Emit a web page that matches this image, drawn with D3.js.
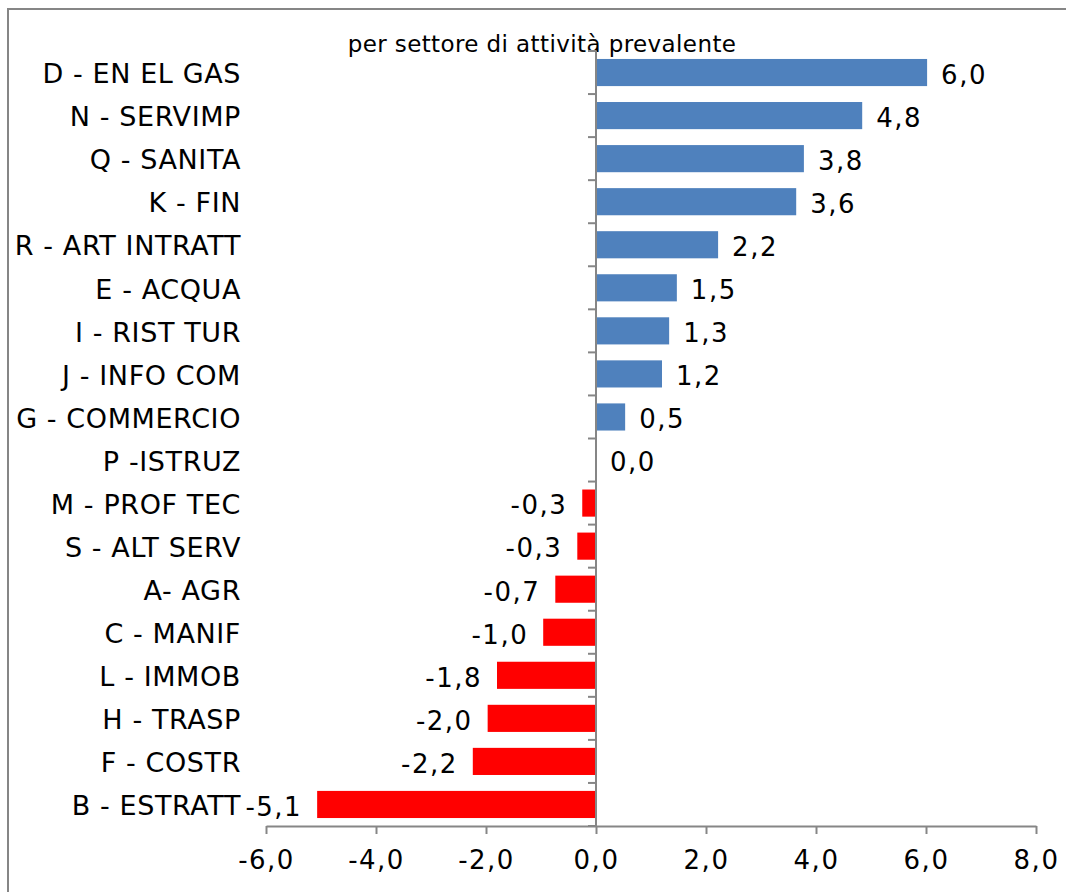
<!DOCTYPE html>
<html>
<head>
<meta charset="utf-8">
<script src="https://cdn.jsdelivr.net/npm/d3@7"></script>
<style>
  body { margin: 0; background: #fff; }
  svg text { font-family: Verdana, "DejaVu Sans", sans-serif; fill: #000; }
</style>
</head>
<body>
<div id="chart"></div>
<script>
// chart data, top to bottom
const categories = [
  'D - EN EL GAS', 'N - SERVIMP', 'Q - SANITA', 'K - FIN', 'R - ART INTRATT',
  'E - ACQUA', 'I - RIST TUR', 'J - INFO COM', 'G - COMMERCIO', 'P -ISTRUZ',
  'M - PROF TEC', 'S - ALT SERV', 'A- AGR', 'C - MANIF', 'L - IMMOB',
  'H - TRASP', 'F - COSTR', 'B - ESTRATT'
];
const values = [
  6.02, 4.84, 3.78, 3.64, 2.22,
  1.47, 1.33, 1.2, 0.53, 0,
  -0.25, -0.34, -0.74, -0.96, -1.8,
  -1.97, -2.24, -5.07
];
const xTicks = [-6, -4, -2, 0, 2, 4, 6, 8];
const title = 'per settore di attività prevalente';

document.addEventListener('DOMContentLoaded', () => {
  const width = 1066;
  const height = 892;
  const axisGrey = '#868686';

  const locale = d3.formatLocale({
    decimal: ',', thousands: '.', grouping: [3], currency: ['', '€'], minus: '-'
  });
  const fmt = locale.format('.1f');

  const svg = d3.select('#chart')
    .append('svg')
    .attr('width', width)
    .attr('height', height);

  // frame (only top and left edges fall inside the picture)
  svg.append('rect')
    .attr('x', 8)
    .attr('y', 9)
    .attr('width', width + 20)
    .attr('height', height + 20)
    .attr('fill', 'none')
    .attr('stroke', axisGrey)
    .attr('stroke-width', 2);

  const x = d3.scaleLinear()
    .domain([-6, 8])
    .range([266, 1036]);

  const y = d3.scaleBand()
    .domain(categories)
    .range([51, 826])
    .paddingInner(0.37)
    .paddingOuter(0.185);

  svg.append('text')
    .attr('x', 542)
    .attr('y', 52)
    .attr('text-anchor', 'middle')
    .attr('font-size', 23)
    .attr('letter-spacing', 0.4)
    .text(title);

  // bars
  svg.selectAll('.bar')
    .data(values)
    .enter()
    .append('rect')
    .attr('class', 'bar')
    .attr('x', d => x(Math.min(0, d)))
    .attr('y', (d, i) => y(categories[i]))
    .attr('width', d => Math.abs(x(d) - x(0)))
    .attr('height', y.bandwidth())
    .attr('fill', d => (d >= 0 ? '#4F81BD' : '#FF0000'));

  // value labels
  svg.selectAll('.val')
    .data(values)
    .enter()
    .append('text')
    .attr('class', 'val')
    .attr('x', d => (d >= 0 ? x(d) + 14 : x(d) - 15))
    .attr('y', (d, i) => y(categories[i]) + y.bandwidth() / 2 + 2)
    .attr('dy', '0.36em')
    .attr('text-anchor', d => (d >= 0 ? 'start' : 'end'))
    .attr('font-size', 26)
    .attr('letter-spacing', 1.5)
    .text(d => fmt(d));

  // category labels
  svg.selectAll('.cat')
    .data(categories)
    .enter()
    .append('text')
    .attr('class', 'cat')
    .attr('x', 241)
    .attr('y', d => y(d) + y.bandwidth() / 2 + 1)
    .attr('dy', '0.36em')
    .attr('text-anchor', 'end')
    .attr('font-size', 27)
    .attr('letter-spacing', 0.6)
    .text(d => d);

  // vertical axis at zero with ticks between categories
  const step = y.step();
  const bounds = d3.range(categories.length + 1).map(i => y.range()[0] + i * step);
  const yAxis = svg.append('g');
  yAxis.append('line')
    .attr('x1', x(0)).attr('x2', x(0))
    .attr('y1', bounds[0]).attr('y2', bounds[bounds.length - 1])
    .attr('stroke', axisGrey)
    .attr('stroke-width', 2);
  yAxis.selectAll('.ytick')
    .data(bounds)
    .enter()
    .append('line')
    .attr('class', 'ytick')
    .attr('x1', x(0) - 8).attr('x2', x(0))
    .attr('y1', d => d).attr('y2', d => d)
    .attr('stroke', axisGrey)
    .attr('stroke-width', 2);

  // horizontal axis
  const xAxis = svg.append('g')
    .attr('transform', `translate(0,${bounds[bounds.length - 1]})`)
    .call(d3.axisBottom(x).tickValues(xTicks).tickFormat(fmt).tickSize(8).tickSizeOuter(0).tickPadding(17));
  xAxis.select('.domain').attr('stroke', axisGrey).attr('stroke-width', 2);
  xAxis.selectAll('.tick line').attr('stroke', axisGrey).attr('stroke-width', 2);
  xAxis.selectAll('.tick text')
    .attr('font-size', 26)
    .attr('letter-spacing', 1.5)
    .attr('font-family', 'Verdana, "DejaVu Sans", sans-serif')
    .attr('fill', '#000');
});
</script>
</body>
</html>
